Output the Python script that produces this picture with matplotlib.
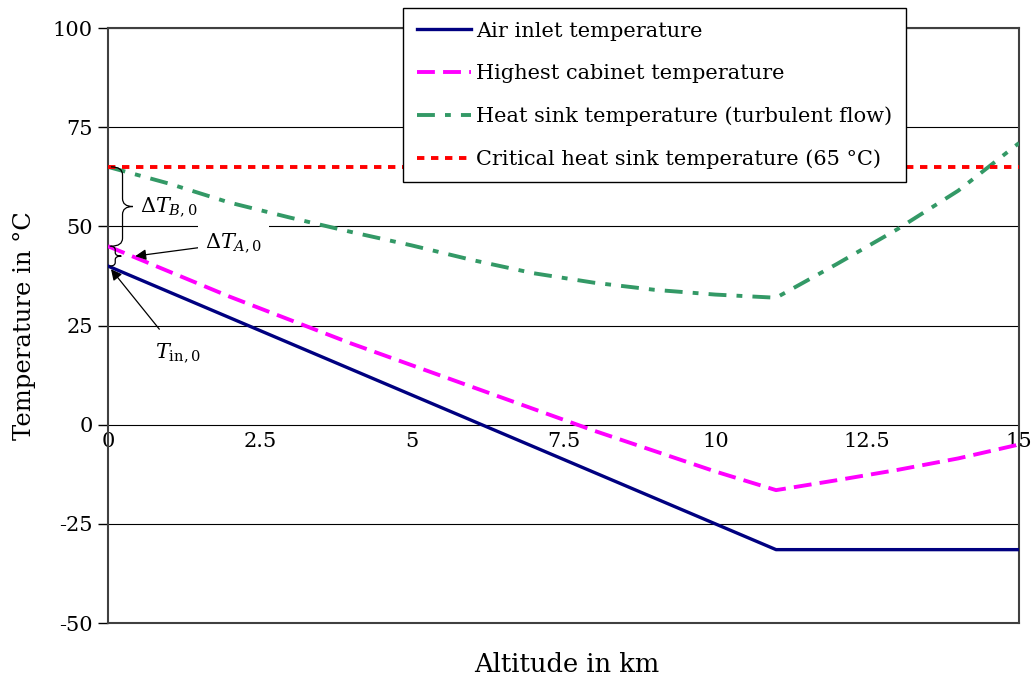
import matplotlib
matplotlib.use('Agg')
import matplotlib.pyplot as plt
from matplotlib.path import Path
from matplotlib.patches import PathPatch

plt.rcParams['font.family'] = ['DejaVu Serif']
plt.rcParams['mathtext.fontset'] = 'dejavuserif'

# altitude in km, temperature in degC
alt_inlet = [0, 11, 15]
t_inlet = [40, -31.5, -31.5]

alt_cab = [0, 2, 4, 6, 8, 10, 11, 12, 13, 14, 15]
t_cab = [45, 32.3, 20.5, 9.5, -1.5, -11.8, -16.5, -14.0, -11.4, -8.5, -5.0]

alt_sink = [0, 1, 2, 3, 4, 5, 6, 7, 8, 9, 10, 11, 12, 13, 14, 15]
t_sink = [65, 60.8, 56.0, 52.2, 48.6, 45.2, 41.5, 38.2, 35.8, 34.0, 32.8, 32.0,
          40.5, 49.3, 59.0, 71.0]

alt_crit = [0, 15]
t_crit = [65, 65]

xticks = [0, 2.5, 5, 7.5, 10, 12.5, 15]
xticklabels = ['0', '2.5', '5', '7.5', '10', '12.5', '15']
yticks = [-50, -25, 0, 25, 50, 75, 100]

t_in0 = t_inlet[0]
t_cab0 = t_cab[0]
t_crit0 = t_crit[0]


def brace(ax, y_top, y_bot, x0, xv, xt, r):
    # curly brace "}" from y_top down to y_bot
    ym = (y_top + y_bot) / 2
    verts = [(x0, y_top), (xv, y_top), (xv, y_top - r),
             (xv, ym + r),
             (xv, ym), (xt, ym),
             (xv, ym), (xv, ym - r),
             (xv, y_bot + r),
             (xv, y_bot), (x0, y_bot)]
    codes = [Path.MOVETO, Path.CURVE3, Path.CURVE3,
             Path.LINETO,
             Path.CURVE3, Path.CURVE3,
             Path.CURVE3, Path.CURVE3,
             Path.LINETO,
             Path.CURVE3, Path.CURVE3]
    ax.add_patch(PathPatch(Path(verts, codes), fill=False, lw=0.9,
                           edgecolor='black', zorder=6))


fig = plt.figure(figsize=(10.34, 6.8), dpi=100)
ax = fig.add_axes([0.1044, 0.0838, 0.8811, 0.875])

ax.plot(alt_inlet, t_inlet, color='#000080', lw=2.4,
        label='Air inlet temperature', zorder=4)
ax.plot(alt_cab, t_cab, color='#ff00ff', lw=2.8, dashes=(4.6, 2.1),
        label='Highest cabinet temperature', zorder=4)
ax.plot(alt_sink, t_sink, color='#339966', lw=2.8, dashes=(4.6, 2.6, 1.5, 2.6),
        label='Heat sink temperature (turbulent flow)', zorder=4)
ax.plot(alt_crit, t_crit, color='#ff0000', lw=2.8, dashes=(1.9, 1.7),
        label='Critical heat sink temperature (65 °C)', zorder=4)

ax.set_xlim(0, 15)
ax.set_ylim(-50, 100)
ax.set_yticks(yticks)
ax.set_yticklabels([str(v) for v in yticks])
ax.set_xticks(xticks)
ax.set_xticklabels(xticklabels)
ax.yaxis.grid(True, color='black', lw=0.8)
ax.set_axisbelow(True)

ax.spines['bottom'].set_position(('data', 0))
ax.spines['bottom'].set_visible(False)
ax.axhline(ax.get_ylim()[0], color='#404040', lw=1.5, clip_on=False)
for s in ['left', 'right', 'top']:
    ax.spines[s].set_color('#404040')
    ax.spines[s].set_linewidth(1.5)

ax.tick_params(axis='x', length=0, pad=5, labelsize=15)
ax.tick_params(axis='y', length=7, width=1, direction='out', labelsize=15,
               pad=4)

ax.set_ylabel('Temperature in °C', fontsize=17.5, labelpad=12)
fig.text(567 / 1034, 1 - 664 / 680, 'Altitude in km', fontsize=18.5,
         ha='center', va='center')

# braces and annotations
brace(ax, t_crit0, t_cab0, 0.05, 0.24, 0.41, 2.0)
brace(ax, t_cab0, t_in0, 0.03, 0.12, 0.22, 0.9)
ax.text(0.53, (t_crit0 + t_cab0) / 2, r'$\mathit{\Delta} T_{B,0}$', fontsize=15,
        ha='left', va='center', zorder=7)
ax.annotate(r'$\mathit{\Delta} T_{A,0}$', xy=(0.45, (t_cab0 + t_in0) / 2),
            xytext=(1.6, 45.8), fontsize=15, ha='left', va='center', zorder=7,
            bbox=dict(facecolor='white', edgecolor='none', pad=5),
            arrowprops=dict(arrowstyle='-|>', color='black', lw=0.9,
                            mutation_scale=16, shrinkA=0, shrinkB=0))
ax.annotate(r'$T_{\mathrm{in},0}$', xy=(0.05, t_in0 - 0.8),
            xytext=(1.15, 18.3), fontsize=15, ha='center', va='center', zorder=7,
            arrowprops=dict(arrowstyle='-|>', color='black', lw=0.9,
                            mutation_scale=16, shrinkA=8, shrinkB=0))

leg = ax.legend(loc='upper left', bbox_to_anchor=(403 / 1034, 1 - 8 / 680),
                bbox_transform=fig.transFigure, borderaxespad=0, fontsize=15,
                handlelength=2.6, labelspacing=1.12, fancybox=False,
                framealpha=1, edgecolor='black', borderpad=0.65,
                handletextpad=0.25)
leg.get_frame().set_linewidth(1.0)
leg.set_zorder(10)

fig.savefig('out.png', dpi=100)
